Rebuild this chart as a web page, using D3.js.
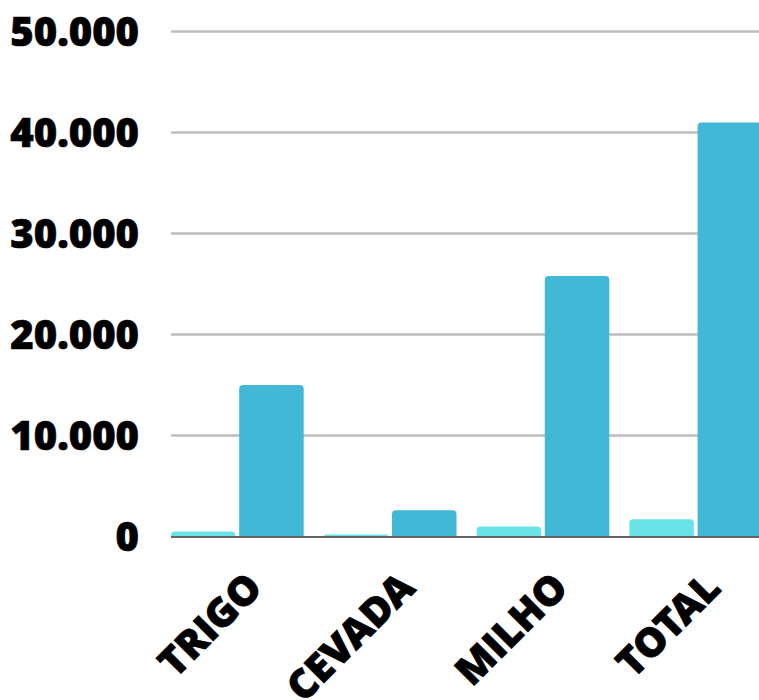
<!DOCTYPE html>
<html>
<head>
<meta charset="utf-8">
<script src="https://cdn.jsdelivr.net/npm/d3@7/dist/d3.min.js"></script>
<style>
  html, body { margin: 0; padding: 0; background: #fff; }
  svg { display: block; }
  text { font-family: "Open Sans ExtraBold", "Open Sans", sans-serif; font-weight: 800; fill: #000; stroke: #000; stroke-width: 0.7px; }
</style>
</head>
<body>
<svg id="chart" width="759" height="700"></svg>
<script>
// Grain categories and the two series per category
const categories = ["TRIGO", "CEVADA", "MILHO", "TOTAL"];
const seriesLight = [500, 200, 1000, 1700];
const seriesDark = [15000, 2600, 25800, 41000];
const yTicks = [0, 10000, 20000, 30000, 40000, 50000];

const colors = ["#6ae3e6", "#42b7d6"];

const svg = d3.select("#chart");
const plotLeft = 171, plotRight = 759;
const yZero = 536.5, yTop = 31.5;

const x0 = d3.scaleBand()
  .domain(categories)
  .range([plotLeft, plotLeft + 3 * 152.8 + 132.7])
  .paddingInner(0.1315)
  .paddingOuter(0);

const x1 = d3.scaleBand()
  .domain([0, 1])
  .range([0, x0.bandwidth()])
  .paddingInner(0.054)
  .paddingOuter(0);

const y = d3.scaleLinear().domain([0, 50000]).range([yZero, yTop]);

const fmt = d3.formatLocale({ decimal: ",", thousands: ".", grouping: [3], currency: ["", ""] }).format(",d");

// Gridlines
svg.append("g")
  .selectAll("line")
  .data(yTicks.filter(d => d > 0))
  .join("line")
  .attr("x1", plotLeft).attr("x2", plotRight)
  .attr("y1", d => y(d)).attr("y2", d => y(d))
  .attr("stroke", "#bdbdbd").attr("stroke-width", 2.5);

// Y axis labels
svg.append("g")
  .selectAll("text")
  .data(yTicks)
  .join("text")
  .attr("x", 139)
  .attr("y", d => y(d))
  .attr("dy", "0.36em")
  .attr("text-anchor", "end")
  .style("font-size", "40px")
  .text(d => fmt(d));

// Bars with rounded top corners
function barPath(x, w, yv) {
  const top = y(yv), bottom = y(0);
  const h = bottom - top;
  const r = Math.min(4, h, w / 2);
  return `M${x},${bottom}V${top + r}Q${x},${top} ${x + r},${top}H${x + w - r}Q${x + w},${top} ${x + w},${top + r}V${bottom}Z`;
}

const rows = categories.map((c, i) => ({ cat: c, vals: [seriesLight[i], seriesDark[i]] }));

const groups = svg.append("g")
  .selectAll("g")
  .data(rows)
  .join("g")
  .attr("transform", d => `translate(${x0(d.cat)},0)`);

groups.selectAll("path")
  .data(d => d.vals.map((v, k) => ({ v, k })))
  .join("path")
  .attr("d", d => barPath(x1(d.k), x1.bandwidth(), d.v))
  .attr("fill", d => colors[d.k]);

// Baseline
svg.append("line")
  .attr("x1", plotLeft).attr("x2", plotRight)
  .attr("y1", yZero + 0.5).attr("y2", yZero + 0.5)
  .attr("stroke", "#666").attr("stroke-width", 2);

// Category labels, rotated
svg.append("g")
  .selectAll("text")
  .data(categories)
  .join("text")
  .attr("transform", d => `translate(${x0(d) + x0.bandwidth() / 2 + 27},${590}) rotate(-45)`)
  .attr("text-anchor", "end")
  .style("font-size", "40px")
  .text(d => d);
</script>
</body>
</html>
